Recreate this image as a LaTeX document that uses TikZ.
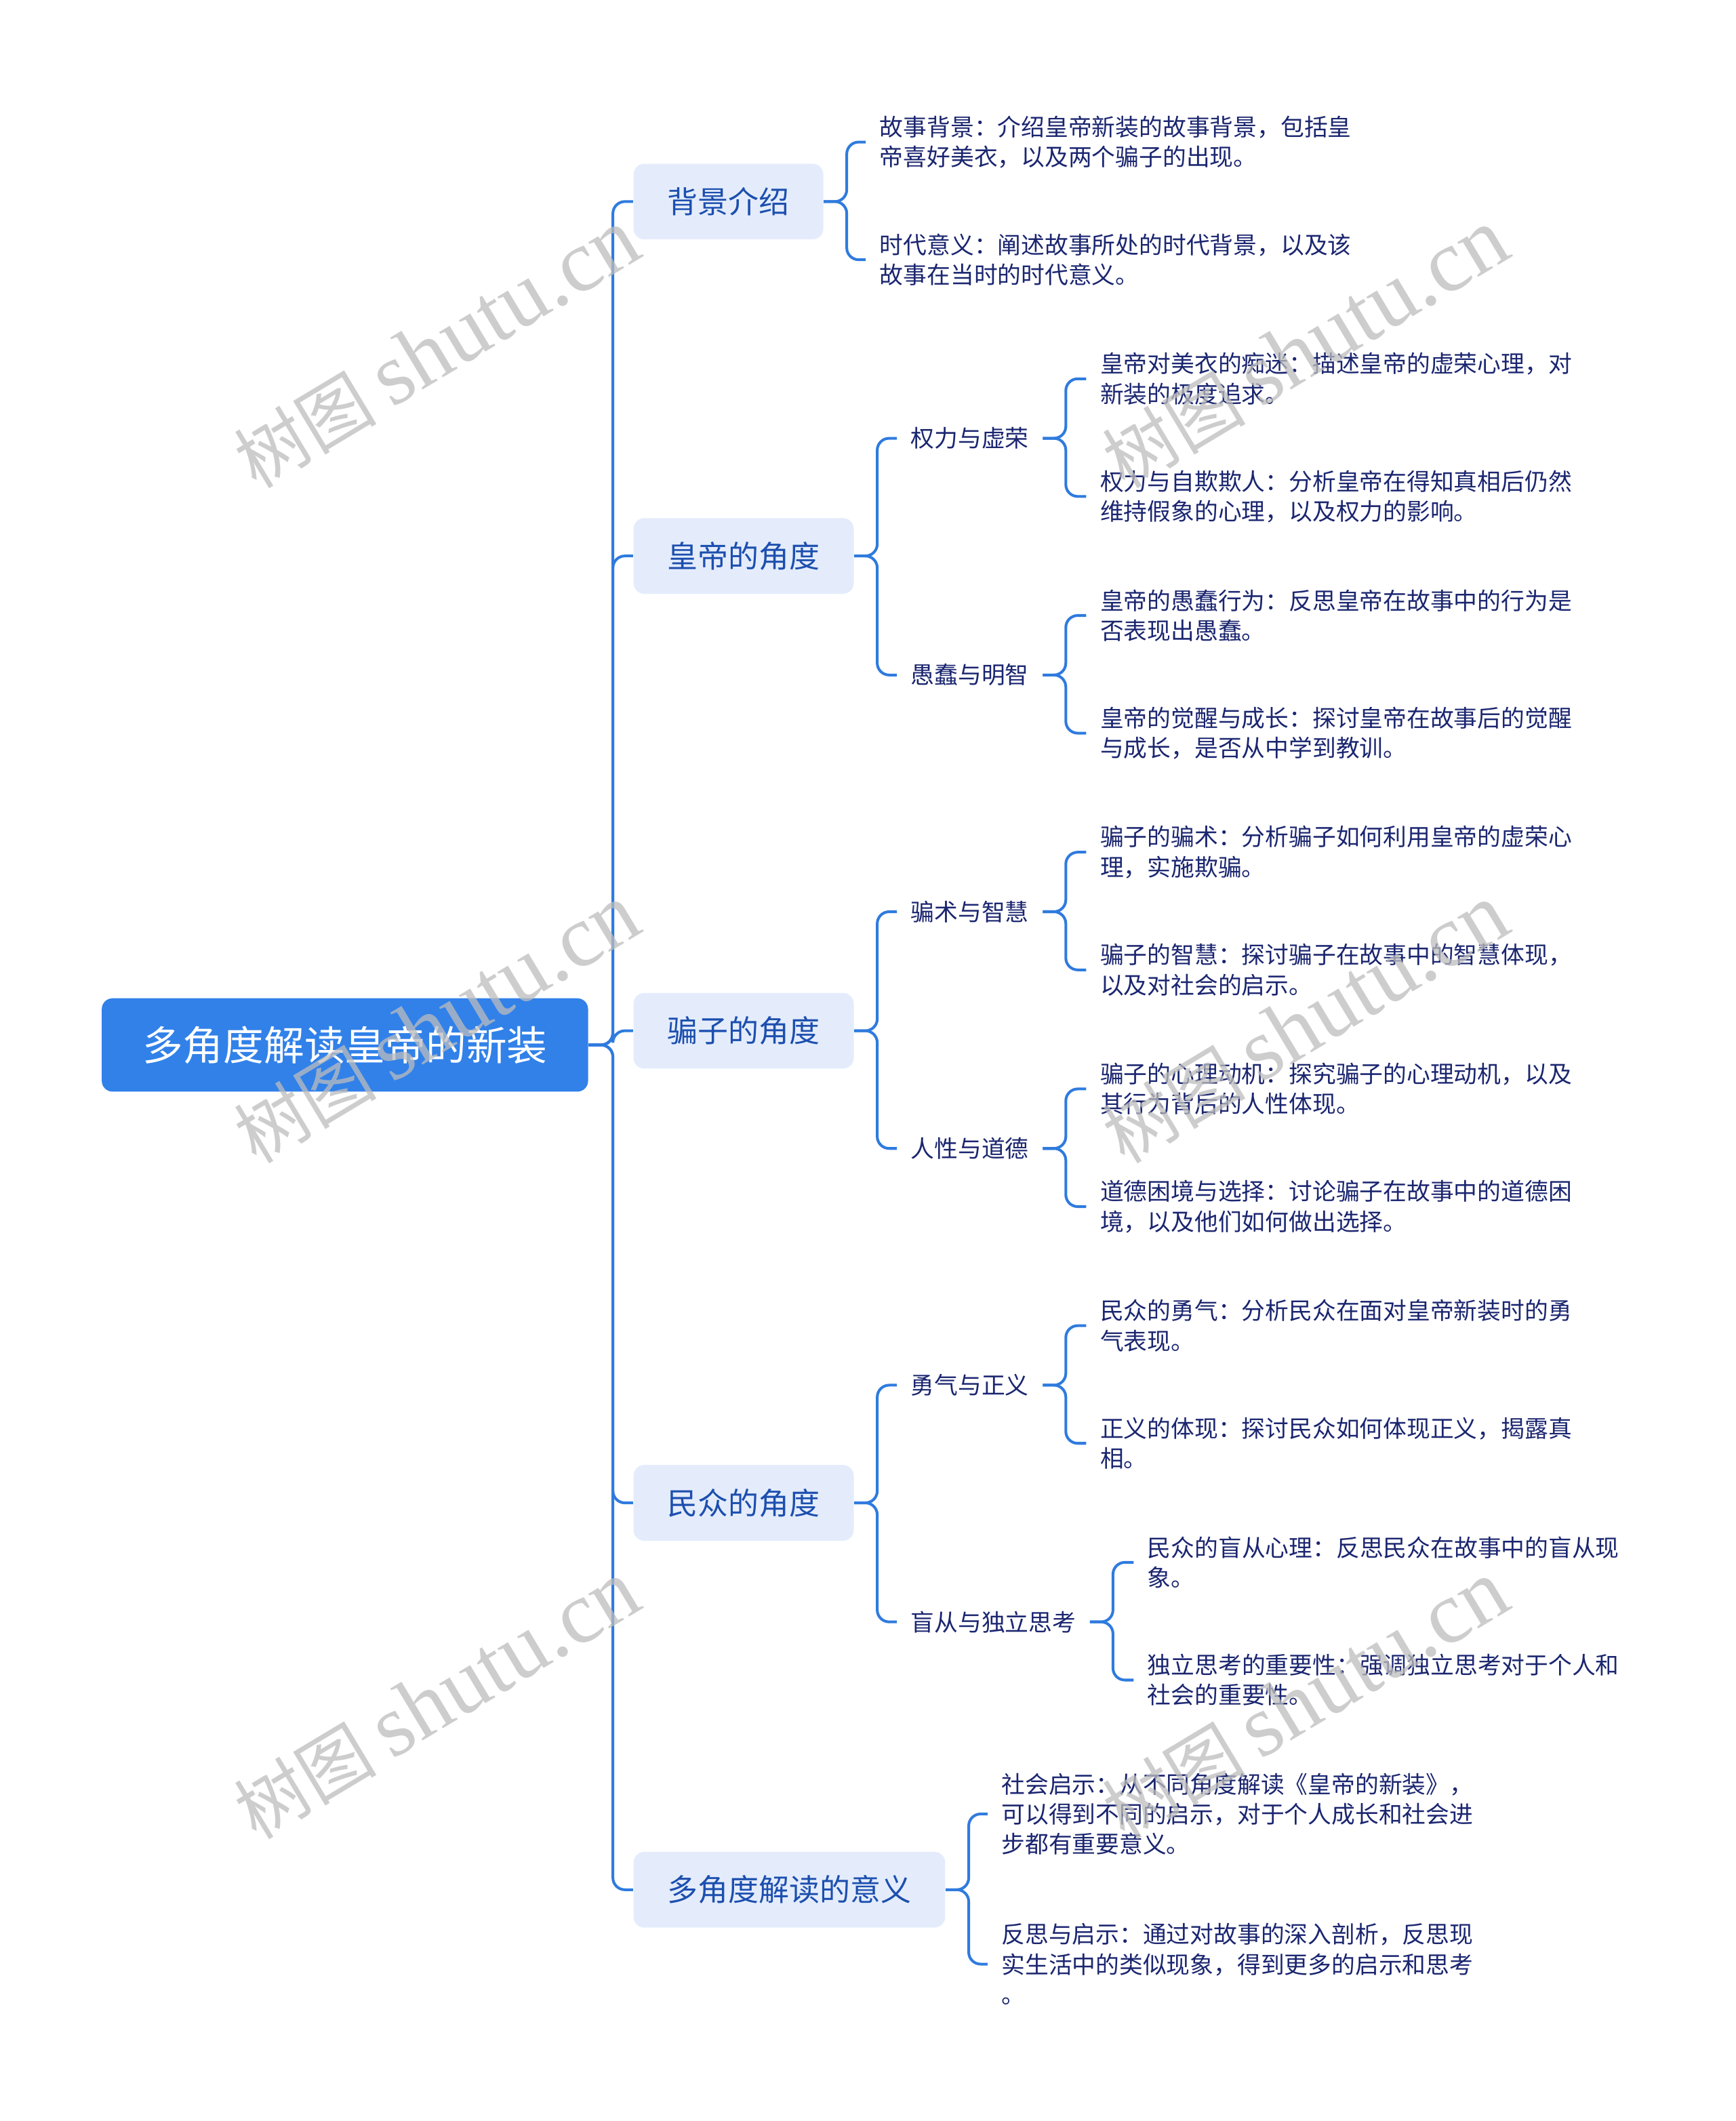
\documentclass[tikz,border=0pt]{standalone}
\usepackage{fontspec}
\setmainfont{Noto Sans CJK SC}
\newfontfamily\marklatin{Liberation Serif}
\definecolor{ink}{HTML}{1B2670}
\definecolor{topicink}{HTML}{1C4FAE}
\definecolor{wire}{HTML}{2F7BDE}
\definecolor{rootfill}{HTML}{3181E9}
\definecolor{topicfill}{HTML}{E4ECFC}
\definecolor{markgray}{HTML}{BDBDBD}

\tikzset{
  rootbox/.style={fill=rootfill,text=white,rounded corners=4.5pt,
    inner xsep=0.6cm,minimum height=1.377cm,
    font=\fontsize{17pt}{20pt}\selectfont},
  topicbox/.style={fill=topicfill,text=topicink,rounded corners=4.5pt,
    anchor=west,inner xsep=0.5cm,minimum height=1.117cm,
    font=\fontsize{12.8pt}{15pt}\selectfont},
  subtopic/.style={anchor=west,text=ink,inner xsep=0.2cm,inner ysep=2pt,
    font=\fontsize{9.9pt}{12.6pt}\selectfont},
  leaf/.style={anchor=west,text=ink,align=left,inner xsep=0.2cm,
    inner ysep=0pt,font=\fontsize{9.9pt}{12.6pt}\selectfont},
  link/.style={draw=wire,line width=1.15pt,rounded corners=5pt},
  wmark/.style={text=markgray,opacity=0.75,rotate=31,inner sep=0pt}
}

\begin{document}
\begin{tikzpicture}[x=0.019953cm,y=-0.019953cm]
  \useasboundingbox (0,0) rectangle (1283,1568);
  \fill[white] (0,0) rectangle (1283,1568);

  % Root and first level
  \node[rootbox] (root) at (255,772.5) {多角度解读皇帝的新装};
  \node[topicbox] (bg) at (468,149) {背景介绍};
  \node[topicbox] (hd) at (468,411) {皇帝的角度};
  \node[topicbox] (pz) at (468,762) {骗子的角度};
  \node[topicbox] (mz) at (468,1111) {民众的角度};
  \node[topicbox] (yy) at (468,1397) {多角度解读的意义};

  \draw[link] (root.east) -- ++(18,0) |- (bg.west);
  \draw[link] (root.east) -- ++(18,0) |- (hd.west);
  \draw[link] (root.east) -- ++(18,0) |- (pz.west);
  \draw[link] (root.east) -- ++(18,0) |- (mz.west);
  \draw[link] (root.east) -- ++(18,0) |- (yy.west);

  % Background
  \node[leaf] (bg1) at (640,105)
    {故事背景：介绍皇帝新装的故事背景，包括皇\\帝喜好美衣，以及两个骗子的出现。};
  \node[leaf] (bg2) at (640,192)
    {时代意义：阐述故事所处的时代背景，以及该\\故事在当时的时代意义。};
  \draw[link] (bg.east) -- ++(17,0) |- (bg1.west);
  \draw[link] (bg.east) -- ++(17,0) |- (bg2.west);

  % Emperor
  \node[subtopic] (hd1) at (663,324) {权力与虚荣};
  \node[subtopic] (hd2) at (663,499) {愚蠢与明智};
  \draw[link] (hd.east) -- ++(17,0) |- (hd1.west);
  \draw[link] (hd.east) -- ++(17,0) |- (hd2.west);
  \node[leaf] (hd11) at (803,280)
    {皇帝对美衣的痴迷：描述皇帝的虚荣心理，对\\新装的极度追求。};
  \node[leaf] (hd12) at (803,367)
    {权力与自欺欺人：分析皇帝在得知真相后仍然\\维持假象的心理，以及权力的影响。};
  \node[leaf] (hd21) at (803,455)
    {皇帝的愚蠢行为：反思皇帝在故事中的行为是\\否表现出愚蠢。};
  \node[leaf] (hd22) at (803,542)
    {皇帝的觉醒与成长：探讨皇帝在故事后的觉醒\\与成长，是否从中学到教训。};
  \draw[link] (hd1.east) -- ++(17,0) |- (hd11.west);
  \draw[link] (hd1.east) -- ++(17,0) |- (hd12.west);
  \draw[link] (hd2.east) -- ++(17,0) |- (hd21.west);
  \draw[link] (hd2.east) -- ++(17,0) |- (hd22.west);

  % Swindlers
  \node[subtopic] (pz1) at (663,674) {骗术与智慧};
  \node[subtopic] (pz2) at (663,849) {人性与道德};
  \draw[link] (pz.east) -- ++(17,0) |- (pz1.west);
  \draw[link] (pz.east) -- ++(17,0) |- (pz2.west);
  \node[leaf] (pz11) at (803,630)
    {骗子的骗术：分析骗子如何利用皇帝的虚荣心\\理，实施欺骗。};
  \node[leaf] (pz12) at (803,717)
    {骗子的智慧：探讨骗子在故事中的智慧体现，\\以及对社会的启示。};
  \node[leaf] (pz21) at (803,805)
    {骗子的心理动机：探究骗子的心理动机，以及\\其行为背后的人性体现。};
  \node[leaf] (pz22) at (803,892)
    {道德困境与选择：讨论骗子在故事中的道德困\\境，以及他们如何做出选择。};
  \draw[link] (pz1.east) -- ++(17,0) |- (pz11.west);
  \draw[link] (pz1.east) -- ++(17,0) |- (pz12.west);
  \draw[link] (pz2.east) -- ++(17,0) |- (pz21.west);
  \draw[link] (pz2.east) -- ++(17,0) |- (pz22.west);

  % People
  \node[subtopic] (mz1) at (663,1024) {勇气与正义};
  \node[subtopic] (mz2) at (663,1199) {盲从与独立思考};
  \draw[link] (mz.east) -- ++(17,0) |- (mz1.west);
  \draw[link] (mz.east) -- ++(17,0) |- (mz2.west);
  \node[leaf] (mz11) at (803,980)
    {民众的勇气：分析民众在面对皇帝新装时的勇\\气表现。};
  \node[leaf] (mz12) at (803,1067)
    {正义的体现：探讨民众如何体现正义，揭露真\\相。};
  \node[leaf] (mz21) at (838,1155)
    {民众的盲从心理：反思民众在故事中的盲从现\\象。};
  \node[leaf] (mz22) at (838,1242)
    {独立思考的重要性：强调独立思考对于个人和\\社会的重要性。};
  \draw[link] (mz1.east) -- ++(17,0) |- (mz11.west);
  \draw[link] (mz1.east) -- ++(17,0) |- (mz12.west);
  \draw[link] (mz2.east) -- ++(17,0) |- (mz21.west);
  \draw[link] (mz2.east) -- ++(17,0) |- (mz22.west);

  % Meaning
  \node[leaf] (yy1) at (730,1341)
    {社会启示：从不同角度解读《皇帝的新装》，\\可以得到不同的启示，对于个人成长和社会进\\步都有重要意义。};
  \node[leaf] (yy2) at (730,1452)
    {反思与启示：通过对故事的深入剖析，反思现\\实生活中的类似现象，得到更多的启示和思考\\。};
  \draw[link] (yy.east) -- ++(17,0) |- (yy1.west);
  \draw[link] (yy.east) -- ++(17,0) |- (yy2.west);

  % Watermarks
  \foreach \wx in {323,965}
    \foreach \wy in {258,757,1257}
      \node[wmark] (wm-\wx-\wy) at (\wx,\wy)
        {\fontsize{30pt}{30pt}\selectfont 树图\hspace{0.22cm}{\marklatin\fontsize{37pt}{37pt}\selectfont shutu.cn}};
\end{tikzpicture}
\end{document}
